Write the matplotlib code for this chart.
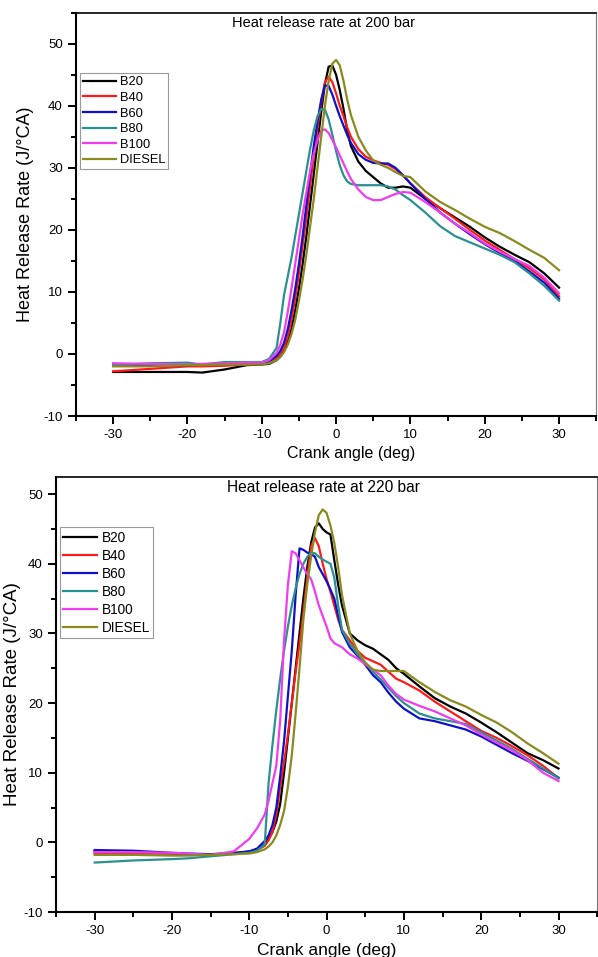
import matplotlib
matplotlib.use("Agg")
import matplotlib.pyplot as plt
from matplotlib.ticker import MultipleLocator

plt.rcParams['font.family'] = ['Liberation Sans', 'DejaVu Sans']
plt.rcParams['axes.unicode_minus'] = False

# Crank angle grid (deg) shared by every series
crank_angle = [-30, -25, -20, -18, -15, -12, -10, -9, -8, -7.5, -7, -6.5, -6, -5.5, -5,
               -4.5, -4, -3.5, -3, -2.5, -2, -1.5, -1, -0.5, 0, 0.5, 1, 1.5, 2, 3, 4, 5,
               6, 7, 8, 9, 10, 12, 14, 16, 18, 20, 22, 24, 26, 28, 30]

fuels = ['B20', 'B40', 'B60', 'B80', 'B100', 'DIESEL']
colors = ['#000000', '#ff1a1a', '#1010c8', '#2a9090', '#f03cf0', '#8a8a1e']

# Heat release rate at 200 bar (J/degCA)
hrr200_b20 = [-2.9, -2.9, -2.9, -3.0, -2.5, -1.8, -1.7, -1.6, -1.0, -0.4, 0.5, 2.0, 4.0, 7.0, 10.5,
              14.5, 19.0, 24.0, 29.0, 34.0, 39.0, 43.5, 46.3, 46.5, 45.0, 42.5, 39.5, 36.0, 33.5, 31.0, 29.5, 28.5,
              27.5, 26.8, 26.8, 27.0, 26.8, 25.0, 23.5, 22.0, 20.5, 18.8, 17.3, 16.0, 14.8, 13.0, 10.7]
hrr200_b40 = [-2.8, -2.4, -2.0, -2.0, -1.9, -1.7, -1.6, -1.4, -0.6, 0.0, 1.0, 2.8, 5.5, 9.0, 13.0,
              17.5, 22.0, 27.0, 32.0, 36.5, 40.5, 43.8, 44.7, 43.8, 42.0, 40.0, 38.3, 36.5, 35.0, 33.0, 31.8, 31.2,
              30.8, 30.5, 29.8, 28.8, 27.5, 25.3, 23.5, 21.8, 20.0, 18.3, 16.8, 15.3, 13.8, 12.0, 9.3]
hrr200_b60 = [-1.8, -1.8, -1.8, -1.7, -1.6, -1.5, -1.5, -1.2, -0.3, 0.5, 1.8, 4.0, 7.0, 10.5, 14.5,
              19.0, 24.0, 29.0, 33.5, 37.5, 41.0, 43.3, 43.2, 41.8, 40.0, 38.3, 36.8, 35.3, 34.0, 32.2, 31.3, 30.8,
              30.7, 30.7, 30.0, 28.8, 27.5, 25.0, 22.8, 21.0, 19.3, 17.7, 16.3, 15.0, 13.3, 11.5, 8.9]
hrr200_b80 = [-1.8, -1.5, -1.4, -1.7, -1.3, -1.3, -1.3, -0.8, 1.0, 5.0, 9.5, 12.5, 15.5, 19.0, 22.5,
              26.0, 29.5, 33.0, 36.0, 38.3, 39.5, 39.4, 37.8, 35.3, 32.7, 30.4, 28.8, 27.8, 27.4, 27.2, 27.2, 27.2,
              27.2, 27.0, 26.5, 25.6, 24.8, 22.8, 20.6, 19.0, 18.0, 17.0, 16.0, 14.8, 13.0, 11.0, 8.6]
hrr200_b100 = [-1.5, -1.6, -1.7, -1.6, -1.5, -1.4, -1.4, -1.0, 0.2, 1.5, 3.5, 6.8, 10.5, 14.5, 18.5,
               22.5, 26.0, 29.5, 32.3, 34.5, 36.0, 36.2, 35.6, 34.5, 33.3, 32.0, 30.7, 29.4, 28.2, 26.5, 25.3, 24.8,
               24.8, 25.3, 25.8, 26.1, 26.0, 24.5, 22.8, 21.0, 19.5, 17.8, 16.5, 15.3, 14.2, 12.3, 9.8]
hrr200_diesel = [-2.0, -2.0, -1.8, -1.8, -1.7, -1.7, -1.7, -1.5, -1.0, -0.5, 0.3, 1.5, 3.2, 5.5, 8.6,
                 12.0, 16.0, 20.5, 25.0, 30.0, 35.0, 40.0, 44.0, 46.8, 47.4, 46.5, 44.0, 41.0, 38.5, 35.0, 32.8, 31.2,
                 30.5, 30.0, 29.3, 28.7, 28.5, 26.2, 24.5, 23.2, 21.8, 20.5, 19.5, 18.2, 16.8, 15.5, 13.5]

# Heat release rate at 220 bar (J/degCA)
hrr220_b20 = [-1.3, -1.4, -1.6, -1.7, -1.8, -1.6, -1.3, -1.0, -0.3, 0.5, 1.5, 3.0, 5.5, 10.0, 15.0,
              20.0, 25.0, 30.0, 35.0, 39.5, 43.0, 45.2, 45.8, 45.0, 44.5, 44.2, 40.5, 37.0, 34.0, 30.0, 29.0, 28.3,
              27.8, 27.0, 26.2, 25.0, 24.2, 22.4, 20.7, 19.5, 18.5, 17.2, 15.8, 14.3, 12.8, 11.8, 10.6]
hrr220_b40 = [-1.6, -1.6, -1.6, -1.7, -1.8, -1.6, -1.4, -1.1, -0.5, 0.3, 1.5, 4.0, 8.0, 11.5, 15.5,
              20.0, 24.5, 28.5, 33.0, 38.0, 42.5, 43.7, 42.5, 40.0, 37.8, 36.0, 34.0, 32.0, 30.5, 29.0, 27.5, 26.5,
              26.0, 25.5, 24.5, 23.5, 23.0, 21.8, 20.2, 18.8, 17.4, 16.0, 15.0, 13.8, 12.5, 11.0, 9.2]
hrr220_b60 = [-1.1, -1.2, -1.5, -1.6, -1.7, -1.5, -1.3, -0.9, 0.2, 1.0, 2.5, 5.0, 9.5, 14.5, 21.0,
              27.5, 35.5, 42.2, 42.0, 41.6, 41.4, 41.0, 39.5, 38.5, 37.5, 36.3, 35.0, 32.5, 30.2, 28.0, 26.8, 25.5,
              24.0, 23.0, 21.5, 20.2, 19.2, 17.8, 17.4, 16.8, 16.2, 15.2, 14.0, 12.8, 11.7, 10.5, 9.3]
hrr220_b80 = [-2.9, -2.6, -2.4, -2.3, -2.0, -1.7, -1.5, -1.2, -0.3, 8.5, 14.0, 19.0, 23.5, 27.5, 31.0,
              34.0, 36.5, 38.5, 40.0, 41.0, 41.6, 41.5, 41.0, 40.6, 40.3, 40.0, 38.0, 34.0, 30.5, 28.5, 27.0, 25.8,
              24.5, 23.4, 22.2, 21.0, 20.0, 18.5, 17.8, 17.4, 17.0, 15.8, 14.6, 13.4, 12.0, 10.6, 9.2]
hrr220_b100 = [-1.4, -1.4, -1.5, -1.6, -1.8, -1.3, 0.5, 2.0, 4.0, 6.0, 8.5, 11.0, 17.5, 29.0, 37.0,
               41.8, 41.5, 40.5, 39.5, 38.5, 37.8, 36.0, 34.0, 32.5, 31.0, 29.3, 28.6, 28.3, 28.0, 27.0, 26.4, 25.6,
               24.8, 24.0, 22.5, 21.3, 20.5, 19.6, 18.8, 17.8, 16.8, 15.5, 14.3, 13.2, 11.8, 10.0, 8.8]
hrr220_diesel = [-1.8, -1.8, -1.9, -1.9, -1.8, -1.7, -1.6, -1.4, -1.0, -0.6, 0.0, 1.0, 2.5, 4.5, 8.0,
                 12.5, 18.5, 25.0, 32.0, 37.0, 41.0, 44.5, 47.0, 47.8, 47.3, 45.5, 43.0, 39.5, 35.5, 30.0, 27.5, 25.8,
                 24.8, 24.6, 24.6, 24.6, 24.6, 23.0, 21.6, 20.4, 19.5, 18.3, 17.2, 15.8, 14.2, 12.8, 11.3]

hrr200 = [hrr200_b20, hrr200_b40, hrr200_b60, hrr200_b80, hrr200_b100, hrr200_diesel]
hrr220 = [hrr220_b20, hrr220_b40, hrr220_b60, hrr220_b80, hrr220_b100, hrr220_diesel]


def style_axes(ax, ymax):
    ax.set_xlim(-35, 35)
    ax.set_ylim(-10, ymax)
    ax.xaxis.set_major_locator(MultipleLocator(10))
    ax.xaxis.set_minor_locator(MultipleLocator(5))
    ax.yaxis.set_major_locator(MultipleLocator(10))
    ax.yaxis.set_minor_locator(MultipleLocator(5))
    ax.tick_params(which='both', direction='out', top=False, right=False, width=1.4, labelsize=9.5)
    ax.tick_params(which='major', length=6)
    ax.tick_params(which='minor', length=3.5)
    ax.spines['left'].set_linewidth(1.5)
    ax.spines['bottom'].set_linewidth(1.5)
    ax.spines['top'].set_linewidth(1.2)
    ax.spines['right'].set_linewidth(0.8)
    ax.spines['right'].set_color('#777777')


fig = plt.figure(figsize=(5.98, 9.57), dpi=100)

# Top panel: 200 bar
ax1 = fig.add_axes([0.127, 0.5653, 0.870, 0.4214])
for name, col, vals in zip(fuels, colors, hrr200):
    ax1.plot(crank_angle, vals, color=col, lw=1.6, label=name)
style_axes(ax1, 55)
ax1.text(0.30, 0.974, 'Heat release rate at 200 bar', transform=ax1.transAxes,
         fontsize=10.5, va='center', ha='left')
ax1.set_xlabel('Crank angle (deg)', fontsize=11.5)
ax1.xaxis.set_label_coords(0.529, -0.074)
ax1.set_ylabel('Heat Release Rate (J/°CA)', fontsize=13)
ax1.yaxis.set_label_coords(-0.081, 0.5)
leg1 = ax1.legend(loc='upper left', bbox_to_anchor=(0.008, 0.85), borderaxespad=0,
                  fontsize=9.3, handlelength=2.5, handletextpad=0.3, labelspacing=0.27,
                  borderpad=0.25, fancybox=False, framealpha=1)
leg1.get_frame().set_edgecolor('#999999')
leg1.get_frame().set_linewidth(0.8)

# Bottom panel: 220 bar
ax2 = fig.add_axes([0.0936, 0.047, 0.905, 0.4549])
for name, col, vals in zip(fuels, colors, hrr220):
    ax2.plot(crank_angle, vals, color=col, lw=1.6, label=name)
style_axes(ax2, 52.5)
ax2.text(0.316, 0.976, 'Heat release rate at 220 bar', transform=ax2.transAxes,
         fontsize=11.2, va='center', ha='left')
ax2.set_xlabel('Crank angle (deg)', fontsize=12.5)
ax2.xaxis.set_label_coords(0.5, -0.071)
ax2.set_ylabel('Heat Release Rate (J/°CA)', fontsize=13.5)
ax2.yaxis.set_label_coords(-0.064, 0.5)
leg2 = ax2.legend(loc='upper left', bbox_to_anchor=(0.0074, 0.884), borderaxespad=0,
                  fontsize=9.8, handlelength=2.5, handletextpad=0.3, labelspacing=0.3,
                  borderpad=0.25, fancybox=False, framealpha=1)
leg2.get_frame().set_edgecolor('#999999')
leg2.get_frame().set_linewidth(0.8)

fig.savefig('out.png', dpi=100)
